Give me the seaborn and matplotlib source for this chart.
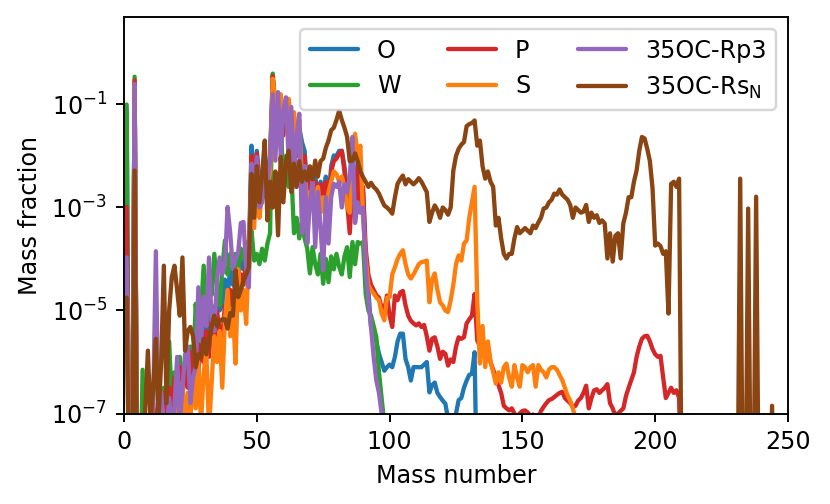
import numpy as np
import pandas as pd
import matplotlib
matplotlib.use("Agg")
import matplotlib.pyplot as plt
from matplotlib.ticker import NullLocator
import seaborn as sns

# log10 of the mass fraction, one value per mass number starting at A=1
# Z marks abundances that fall far below the plotted range
Z = -9

O_vals = [-1.1, Z, Z, -0.6, Z, Z, Z, Z, Z, -7.4,
          -7.2, -7.5, -7.0, -7.3, -6.8, -7.2, -6.6, -7.0, -6.4, -6.8,
          -6.2, -6.6, -6.0, -6.4, -5.8, -6.2, -5.6, -6.0, -4.8, -5.6,
          -5.0, -5.5, -4.9, -5.3, -4.7, -5.0, -4.9, -4.4, -4.7, -4.2,
          -4.5, -4.1, -4.4, -3.9, -4.2, -3.7, -3.9, -1.8, -2.6, -1.9,
          -2.5, -2.4, -2.2, -2.3, -2.0, -0.5, -1.1, -1.35, -0.9, -1.5,
          -1.05, -1.3, -1.15, -1.45, -1.9, -1.45, -1.73, -1.9, -2.7, -2.3,
          -2.7, -2.4, -2.8, -2.5, -2.7, -2.4, -2.9, -2.2, -1.99, -2.0,
          -1.9, -1.9, -2.2, -2.7, -3.2, -2.5, -2.9, -2.1, -2.9, -2.7,
          -4.0, -4.6, -5.32, -5.4, -5.6, -5.84, -6.0, -6.17, -6.1, -6.05,
          -6.1, -5.9, -5.6, -5.45, -5.45, -5.94, -6.1, -6.36, -6.1, -6.1,
          -6.1, -6.1, -6.05, -6.0, -6.59, -6.45, -6.4, -6.6, -6.68, -6.75,
          -6.81, -7.1, -7.3, -7.2, -7.0, -6.74, -6.7, -6.5, -6.36, -6.25,
          -6.23, -5.81, Z]

W_vals = [-1.0, Z, Z, -0.46, Z, Z, -6.15, Z, -7.5, -7.2,
          Z, -7.3, -6.8, -7.4, -6.5, -7.0, -5.6, -6.8, -6.2, -6.9,
          -5.9, -6.6, -6.0, -6.4, -5.7, -6.2, -4.87, -5.6, -5.0, -4.13,
          -5.2, -4.5, -4.7, -3.9, -4.5, -4.9, -4.2, -3.64, -4.3, -3.9,
          -4.1, -3.9, -4.2, -3.8, -4.0, -3.67, -3.68, -3.45, -4.03, -3.9,
          -4.1, -3.8, -4.03, -3.7, -3.5, -0.4, -1.1, -1.6, -1.2, -2.7,
          -2.0, -2.6, -2.3, -3.5, -3.2, -3.6, -3.3, -3.6, -3.8, -4.28,
          -3.77, -4.1, -4.3, -3.9, -4.48, -4.0, -4.45, -3.95, -4.2, -3.9,
          -4.15, -4.3, -3.95, -3.77, -4.35, -3.67, -4.1, -3.67, -3.7, -3.67,
          -4.68, -5.0, -5.1, -5.3, -5.52, -6.2, -6.7, -7.2, Z]

P_vals = [-2.99, Z, Z, -0.53, Z, Z, -7.5, Z, -7.3, -7.2,
          -6.8, -7.4, -6.9, -7.3, -6.6, -7.2, -6.5, -6.9, -6.3, -6.8,
          -6.1, -6.7, -6.0, -6.5, -5.8, -6.4, -5.7, -6.2, -5.6, -6.0,
          -5.4, -5.9, -5.2, -5.6, -5.0, -5.4, -5.5, -4.9, -5.2, -4.6,
          -4.9, -4.5, -4.8, -4.3, -4.5, -4.0, -4.2, -2.0, -2.9, -1.95,
          -2.6, -2.5, -2.3, -2.4, -2.1, -0.45, -1.2, -1.4, -1.0, -1.6,
          -1.1, -1.4, -1.2, -1.5, -2.0, -1.5, -2.6, -2.0, -2.9, -2.4,
          -2.8, -2.5, -2.9, -2.55, -2.8, -2.5, -3.0, -2.3, -2.1, -2.05,
          -1.95, -1.9, -2.3, -2.9, -3.5, -2.6, -3.0, -2.2, -3.0, -2.6,
          -3.8, -4.3, -4.5, -4.6, -4.7, -4.75, -4.94, -5.0, -4.71, -5.1,
          -5.32, -4.71, -4.8, -4.65, -4.62, -4.9, -5.1, -5.2, -5.25, -5.29,
          -5.25, -5.32, -5.28, -5.5, -5.78, -5.55, -5.52, -5.7, -5.94, -5.8,
          -5.84, -6.07, -5.95, -6.0, -5.7, -5.52, -5.55, -5.52, -5.25, -5.17,
          -5.1, -4.68, -5.58, -5.7, -5.55, -5.9, -5.7, -6.0, -6.15, -6.29,
          -6.45, -6.6, -6.85, -6.9, -6.94, -6.9, -7.0, -7.08, -7.0, -6.95,
          -6.94, -6.98, -7.05, -7.02, -7.05, -7.08, -6.95, -6.87, -6.8, -6.74,
          -6.72, -6.68, -6.64, -6.6, -6.58, -6.7, -6.75, -6.8, -6.87, -6.85,
          -6.75, -6.7, -6.6, -6.46, -6.9, -6.7, -6.55, -6.53, -6.6, -6.55,
          -6.5, -6.43, -6.8, -6.9, -7.05, -7.0, -6.95, -6.9, -6.66, -6.5,
          -6.35, -6.2, -5.9, -5.7, -5.55, -5.5, -5.49, -5.6, -5.75, -5.85,
          -5.9, -5.88, -6.3, -6.7, -6.6, -6.5, -6.6, -6.55, -6.7, Z]

S_vals = [-4.2, Z, Z, -0.65, Z, Z, Z, Z, Z, Z,
          Z, Z, -6.7, Z, Z, -7.3, -6.9, Z, -7.2, -6.9,
          -7.5, -6.4, -7.3, -6.6, -7.1, -6.3, -6.9, -6.0, -7.2, -6.2,
          -5.8, -7.3, -6.4, -5.5, -6.0, -5.4, -6.5, -5.2, -4.6, -5.5,
          -5.0, -6.03, -4.2, -5.0, -4.6, -5.26, -3.9, -2.5, -3.4, -2.3,
          -3.2, -2.7, -2.8, -2.6, -2.3, -0.5, -0.92, -1.5, -0.8, -1.3,
          -1.0, -0.89, -1.4, -1.15, -1.7, -1.3, -2.5, -2.2, -3.0, -2.7,
          -2.73, -2.9, -2.6, -3.1, -2.8, -3.2, -2.7, -2.5, -2.3, -2.35,
          -2.5, -2.4, -2.6, -3.0, -3.1, -2.0, -1.57, -2.0, -1.8, -3.2,
          -4.0, -4.5, -4.6, -4.67, -4.75, -4.8, -5.06, -5.19, -4.75, -4.74,
          -4.3, -4.16, -4.0, -3.9, -3.83, -4.1, -4.3, -4.38, -4.3, -4.2,
          -4.1, -4.06, -4.05, -4.03, -4.84, -4.4, -4.28, -4.6, -4.84, -4.9,
          -5.0, -5.03, -4.8, -4.5, -4.1, -3.93, -4.03, -3.7, -3.64, -3.2,
          -2.9, -2.6, -4.8, -6.03, -5.3, -6.1, -5.6, -6.0, -6.2, -6.42,
          -6.2, -6.4, -6.1, -6.03, -6.3, -6.48, -6.06, -6.3, -6.48, -6.06,
          -6.1, -6.2, -6.1, -6.06, -6.48, -6.06, -6.15, -6.2, -6.3, -6.15,
          -6.1, -6.1, -6.15, -6.25, -6.35, -6.5, -6.65, -6.75, -6.9, -7.1,
          Z]

Rp3_vals = [-3.97, Z, Z, -0.6, Z, Z, Z, Z, Z, -7.4,
            -6.8, -3.85, -7.3, -6.6, -7.2, -7.5, -6.7, -7.3, -6.9, -5.9,
            -7.2, -6.5, -5.85, -5.7, -6.8, -6.3, -6.1, -4.55, -5.6, -4.74,
            -5.3, -3.97, -5.2, -5.4, -4.4, -3.97, -4.3, -4.1, -2.99, -3.5,
            -4.2, -4.0, -3.87, -3.3, -3.28, -4.2, -4.55, -2.15, -2.73, -2.02,
            -3.0, -2.9, -2.4, -2.5, -2.1, -0.8, -2.09, -0.76, -2.0, -1.1,
            -0.86, -2.1, -1.05, -2.6, -1.6, -1.18, -3.5, -2.2, -3.7, -2.9,
            -2.5, -3.77, -2.7, -3.38, -4.22, -2.8, -3.7, -2.8, -2.54, -2.6,
            -2.5, -3.0, -2.55, -2.7, -2.4, -1.63, -3.3, -2.9, -3.1, -3.0,
            -4.16, -4.8, -5.32, -5.9, -6.36, -6.6, -7.0, -7.8, Z]

RsN_vals = [-4.75, Z, Z, -2.28, Z, Z, Z, -6.9, -5.78, -7.2,
            -6.5, -5.55, -7.1, -6.0, -4.13, -6.8, -5.0, -4.35, -4.13, -4.6,
            -5.1, -3.97, -5.78, -5.4, -5.32, -5.5, -6.1, -5.85, -5.9, -5.55,
            -5.85, -5.6, -5.32, -5.1, -5.3, -5.2, -5.17, -5.17, -5.35, -5.05,
            -5.1, -4.22, -4.74, -4.6, -4.42, -4.3, -4.16, -2.35, -3.2, -2.2,
            -2.9, -2.35, -1.7, -3.25, -2.5, -3.0, -2.3, -3.54, -2.02, -2.9,
            -2.1, -1.9, -2.7, -2.15, -2.6, -2.1, -2.5, -2.3, -2.47, -2.2,
            -2.45, -2.09, -2.4, -2.1, -2.05, -1.84, -1.7, -1.5, -1.45, -1.3,
            -1.12, -1.3, -1.45, -1.63, -2.1, -2.09, -1.95, -2.1, -2.3, -2.41,
            -2.5, -2.6, -2.52, -2.6, -2.65, -2.73, -2.85, -2.96, -3.0, -3.05,
            -3.12, -2.8, -2.54, -2.45, -2.38, -2.55, -2.45, -2.5, -2.55, -2.5,
            -2.43, -2.5, -2.6, -2.7, -3.28, -3.1, -2.96, -3.05, -3.2, -3.0,
            -3.05, -3.14, -3.0, -2.28, -2.0, -1.86, -1.78, -1.73, -1.42, -1.38,
            -1.36, -1.31, -1.8, -1.7, -2.2, -2.44, -2.3, -2.5, -2.6, -3.35,
            -3.2, -3.6, -3.9, -3.99, -3.9, -3.9, -3.6, -3.38, -3.5, -3.45,
            -3.4, -3.45, -3.5, -3.35, -3.4, -3.29, -3.2, -3.02, -3.0, -2.9,
            -2.85, -2.73, -2.75, -2.65, -2.75, -2.8, -2.85, -2.95, -3.2, -3.0,
            -3.05, -3.1, -3.08, -2.95, -3.28, -3.1, -3.2, -3.15, -3.3, -3.25,
            -3.31, -3.99, -3.5, -4.05, -3.55, -3.5, -3.99, -3.31, -3.1, -2.8,
            -2.8, -2.5, -2.28, -1.9, -1.63, -1.66, -1.86, -2.1, -2.63, -3.74,
            -3.7, -3.75, -3.9, -3.85, -5.06, -2.54, -2.5, -2.6, -2.44, Z,
            Z, Z, Z, Z, Z, Z, Z, Z, Z, Z,
            Z, Z, Z, Z, Z, Z, Z, Z, Z, Z,
            Z, -2.44, Z, Z, -3.02, Z, Z, -2.79, Z, Z,
            Z, Z, Z, -6.85, Z, Z, Z, Z, Z, Z]

labels = ["O", "W", "P", "S", "35OC-Rp3", r"35OC-Rs$_\mathrm{N}$"]
series = [O_vals, W_vals, P_vals, S_vals, Rp3_vals, RsN_vals]
colors = ["#1f77b4", "#2ca02c", "#d62728", "#ff7f0e", "#9467bd", "#8b4513"]

frames = []
for name, vals in zip(labels, series):
    vals = np.array(vals, dtype=float)
    frames.append(pd.DataFrame({"A": np.arange(1, len(vals) + 1),
                                "frac": 10 ** vals,
                                "model": name}))
df = pd.concat(frames, ignore_index=True)

sns.set_style("ticks", {"axes.edgecolor": "black", "xtick.color": "black",
                        "ytick.color": "black", "text.color": "black",
                        "axes.labelcolor": "black"})
plt.rcParams["font.family"] = ["DejaVu Sans"]
plt.rcParams["xtick.major.size"] = 3.5
plt.rcParams["ytick.major.size"] = 3.5
plt.rcParams["axes.linewidth"] = 0.8

dpi = 172
fig, ax = plt.subplots(figsize=(830 / dpi, 504 / dpi), dpi=dpi)
sns.lineplot(data=df, x="A", y="frac", hue="model", hue_order=labels,
             palette=dict(zip(labels, colors)), estimator=None, sort=False,
             linewidth=1.8, ax=ax)
ax.set_yscale("log")
ax.set_xlim(0, 250)
ax.set_ylim(1e-7, 5)
ax.set_yticks([1e-7, 1e-5, 1e-3, 1e-1])
ax.yaxis.set_minor_locator(NullLocator())
ax.set_xticks([0, 50, 100, 150, 200, 250])
ax.set_xlabel("Mass number")
ax.set_ylabel("Mass fraction")
handles, labs = ax.get_legend_handles_labels()
ax.legend(handles, labs, ncol=3, loc="upper right")
fig.subplots_adjust(left=124 / 830, right=788 / 830, top=1 - 17 / 504, bottom=1 - 413.5 / 504)
fig.savefig("out.png", dpi=dpi)
